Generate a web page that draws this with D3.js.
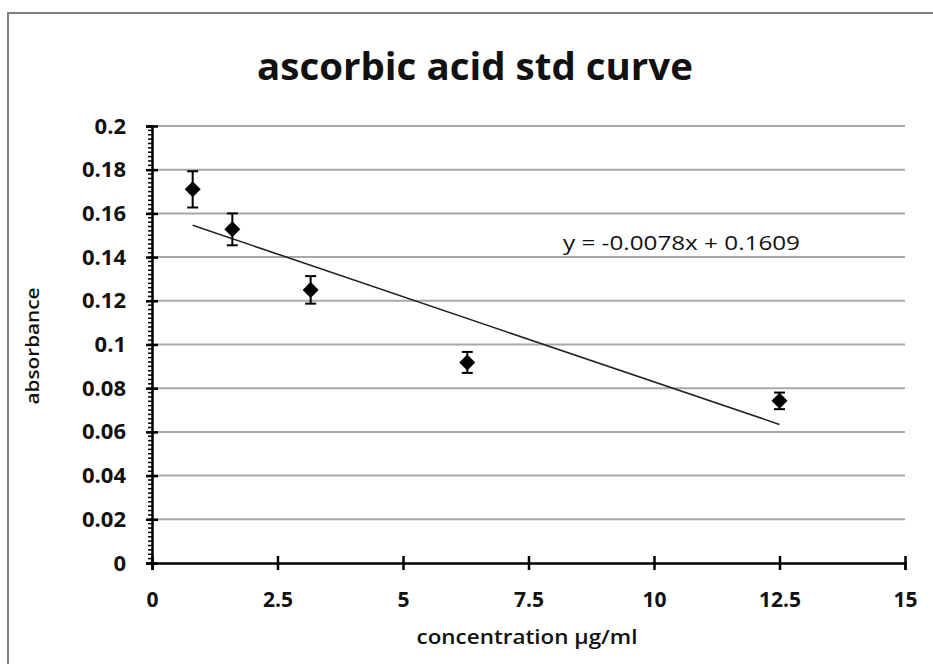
<!DOCTYPE html>
<html>
<head>
<meta charset="utf-8">
<script src="https://cdn.jsdelivr.net/npm/d3@7"></script>
<style>
  html, body { margin: 0; padding: 0; background: #fff; }
  svg { display: block; }
  text { font-family: "Open Sans", "Noto Sans", sans-serif; fill: #111; }
</style>
</head>
<body>
<svg id="chart" width="933" height="664"></svg>
<script>
// ---- data ----
const concentration = [0.81, 1.6, 3.16, 6.28, 12.5];
const absorbance    = [0.171, 0.1527, 0.125, 0.0918, 0.0742];
const errors        = [0.0083, 0.0073, 0.0063, 0.0048, 0.0038];
const xTicks = [0, 2.5, 5, 7.5, 10, 12.5, 15];
const yTicks = [0, 0.02, 0.04, 0.06, 0.08, 0.1, 0.12, 0.14, 0.16, 0.18, 0.2];
const slope = -0.0078, intercept = 0.1609;
const titleText = "ascorbic acid std curve";
const xLabel = "concentration \u00b5g/ml";
const yLabel = "absorbance";
const eqText = "y = -0.0078x + 0.1609";

const svg = d3.select("#chart");

// outer frame
svg.append("rect").attr("x", 8).attr("y", 13).attr("width", 940).attr("height", 670)
  .attr("fill", "none").attr("stroke", "#7f7f7f").attr("stroke-width", 2);

const x = d3.scaleLinear().domain([0, 15]).range([152, 905]);
const y = d3.scaleLinear().domain([0, 0.2]).range([563, 126]);

// gridlines
svg.append("g").selectAll("line").data(yTicks.filter(d => d > 0)).join("line")
  .attr("x1", x(0)).attr("x2", x(15))
  .attr("y1", d => y(d)).attr("y2", d => y(d))
  .attr("stroke", "#a8a8a8").attr("stroke-width", 2);

// y minor ticks
const minor = d3.range(0, 101).map(i => i * 0.002);
svg.append("g").selectAll("line").data(minor).join("line")
  .attr("x1", x(0) - 4).attr("x2", x(0))
  .attr("y1", d => y(d)).attr("y2", d => y(d))
  .attr("stroke", "#000").attr("stroke-width", 1.5);

// y axis
const yAxis = svg.append("g").attr("transform", `translate(${x(0)},0)`)
  .call(d3.axisLeft(y).tickValues(yTicks).tickFormat(d => String(+d.toFixed(2))).tickSize(6).tickPadding(20));
yAxis.select(".domain").attr("stroke", "#000").attr("stroke-width", 2.5);
yAxis.selectAll(".tick line").attr("stroke", "#000").attr("stroke-width", 2.5).attr("x2", 6).attr("x1", -6);
yAxis.selectAll(".tick text").style("font-size", "22px").style("font-weight", "bold")
  .style("font-family", '"Open Sans", sans-serif').attr("fill", "#111");

// x axis
const xAxis = svg.append("g").attr("transform", `translate(0,${y(0)})`)
  .call(d3.axisBottom(x).tickValues(xTicks).tickFormat(d => String(d)).tickSize(7).tickPadding(22));
xAxis.select(".domain").attr("stroke", "#000").attr("stroke-width", 2.5);
xAxis.selectAll(".tick line").attr("stroke", "#000").attr("stroke-width", 2.5).attr("y1", -7).attr("y2", 7);
xAxis.selectAll(".tick text").style("font-size", "21px").style("font-weight", "bold")
  .style("font-family", '"Open Sans", sans-serif').attr("fill", "#111");

// trendline
const xMin = d3.min(concentration), xMax = d3.max(concentration);
svg.append("line")
  .attr("x1", x(xMin)).attr("y1", y(slope * xMin + intercept))
  .attr("x2", x(xMax)).attr("y2", y(slope * xMax + intercept))
  .attr("stroke", "#222").attr("stroke-width", 1.6);

// error bars
const pts = concentration.map((c, i) => ({c, a: absorbance[i], e: errors[i]}));
const eb = svg.append("g").attr("stroke", "#000").attr("stroke-width", 2);
eb.selectAll(".v").data(pts).join("line")
  .attr("x1", d => x(d.c)).attr("x2", d => x(d.c))
  .attr("y1", d => y(d.a + d.e)).attr("y2", d => y(d.a - d.e));
eb.selectAll(".t").data(pts).join("line")
  .attr("x1", d => x(d.c) - 5.5).attr("x2", d => x(d.c) + 5.5)
  .attr("y1", d => y(d.a + d.e)).attr("y2", d => y(d.a + d.e));
eb.selectAll(".b").data(pts).join("line")
  .attr("x1", d => x(d.c) - 5.5).attr("x2", d => x(d.c) + 5.5)
  .attr("y1", d => y(d.a - d.e)).attr("y2", d => y(d.a - d.e));

// markers
svg.append("g").selectAll("path").data(pts).join("path")
  .attr("d", d3.symbol(d3.symbolSquare, 128))
  .attr("transform", d => `translate(${x(d.c)},${y(d.a)}) rotate(45)`)
  .attr("fill", "#000");

// equation
svg.append("text").attr("x", 563).attr("y", 250).text(eqText)
  .style("font-size", "20px").attr("textLength", 237).attr("lengthAdjust", "spacingAndGlyphs");

// title
svg.append("text").attr("x", 475).attr("y", 80).attr("text-anchor", "middle").text(titleText)
  .style("font-size", "38px").style("font-weight", "bold")
  .attr("textLength", 436).attr("lengthAdjust", "spacingAndGlyphs");

// axis titles
svg.append("text").attr("x", 527).attr("y", 644).attr("text-anchor", "middle").text(xLabel)
  .style("font-size", "20px").style("font-weight", "600")
  .attr("textLength", 221).attr("lengthAdjust", "spacingAndGlyphs");
svg.append("text").attr("transform", "translate(39,346) rotate(-90)").attr("text-anchor", "middle").text(yLabel)
  .style("font-size", "18px").style("font-weight", "600")
  .attr("textLength", 117).attr("lengthAdjust", "spacingAndGlyphs");
</script>
</body>
</html>
